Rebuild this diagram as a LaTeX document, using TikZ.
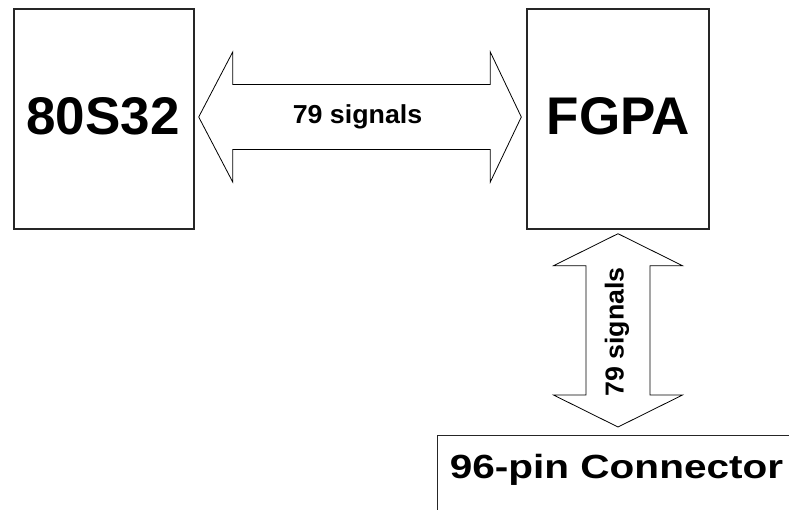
\documentclass[tikz,border=0pt]{standalone}
\usepackage{fontspec}
\setmainfont{Liberation Sans}
\usetikzlibrary{calc}
\begin{document}
\begin{tikzpicture}[x=1pt,y=-1pt,
  unitbox/.style={draw=black!85,line width=1.4pt,fill=white,inner sep=0pt},
  blockarrow/.style={draw=black,line width=0.8pt,line join=miter,fill=white},
  bigtext/.style={font=\fontsize{53}{53}\selectfont\bfseries,inner sep=0pt,anchor=base},
  sigtext/.style={font=\fontsize{26}{26}\selectfont\bfseries,inner sep=0pt,anchor=base},
  conntext/.style={font=\fontsize{33.5}{33.5}\selectfont\bfseries,inner sep=0pt,anchor=base}]
\useasboundingbox (0,0) rectangle (789,509);
\clip (0,0) rectangle (789,509);

% processor and FPGA blocks
\node[unitbox,minimum width=180pt,minimum height=220pt] (cpu) at (104,119) {};
\node[unitbox,minimum width=182pt,minimum height=220pt] (fpga) at (618,119) {};
% connector block runs off the page edge
\node[unitbox,minimum width=380pt,minimum height=100pt,anchor=north west] (conn) at (437,435) {};

\node[bigtext] (cpulabel) at (103,134) {80S32};
\node[bigtext] (fpgalabel) at (618.5,134) {FGPA};
\node[conntext] (connlabel) at (616.5,478) {\scalebox{1.21}[1]{96-pin Connector}};

% horizontal double block arrow between the two chips
\coordinate (hl) at ($(cpu.east)+(4,-2)$);
\coordinate (hr) at ($(fpga.west)+(-5,-2)$);
\draw[blockarrow] (hl) -- ++(34,-65) -- ++(0,32.5) -- ($(hr)+(-31,-32.5)$) -- ++(0,-32.5)
  -- (hr) -- ++(-31,65) -- ++(0,-32.5) -- ($(hl)+(34,32.5)$) -- ++(0,32.5) -- cycle;
\node[sigtext] (hsig) at (357.5,123.5) {\scalebox{1.03}[1]{79 signals}};

% vertical double block arrow from the FPGA to the connector
\coordinate (vt) at ($(fpga.south)+(0,4)$);
\coordinate (vb) at ($(conn.north west)+(181,-8)$);
\draw[blockarrow] (vt) -- ++(64.5,32) -- ++(-32.5,0) -- ($(vb)+(32,-32)$) -- ++(32.5,0)
  -- (vb) -- ++(-64.5,-32) -- ++(32.5,0) -- ($(vt)+(-32,32)$) -- ++(-32.5,0) -- cycle;
\node[sigtext,rotate=90] (vsig) at (623.5,332) {\scalebox{1.03}[1]{79 signals}};
\end{tikzpicture}
\end{document}
